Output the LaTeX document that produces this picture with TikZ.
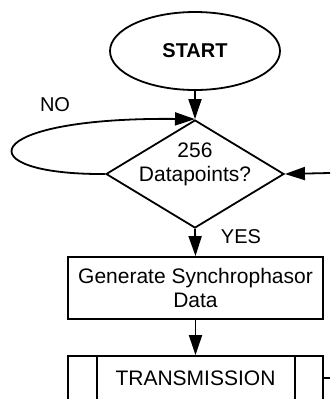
\documentclass[tikz,border=0pt]{standalone}
\usepackage{fontspec}
\setmainfont{Liberation Sans}
\usetikzlibrary{shapes.geometric,arrows.meta}
\tikzset{
  flow/.style={line width=1.8pt, -{Triangle[length=20pt,width=13pt]}},
  shapeline/.style={draw, line width=1.8pt, inner sep=0pt},
  bigtext/.style={font=\fontsize{21}{24}\selectfont, align=center},
  lbl/.style={font=\fontsize{20}{24}\selectfont},
}
\begin{document}
\begin{tikzpicture}[x=1pt,y=-1pt]
\useasboundingbox (0,0) rectangle (330,399);
\clip (0,0) rectangle (330,399);
% start terminal
\node[shapeline, ellipse, minimum width=170pt, minimum height=78pt,
      font=\bfseries\fontsize{20}{24}\selectfont] (start) at (195,51) {START};
% decision
\node[shapeline, diamond, minimum width=178pt, minimum height=108pt] (dec) at (195,174) {};
\node[bigtext] (dectext) at (195,164) {256\\Datapoints?};
% process
\node[shapeline, rectangle, minimum width=255pt, minimum height=62pt, bigtext] (gen) at (195.5,288) {Generate Synchrophasor\\Data};
% predefined process
\node[shapeline, rectangle, minimum width=255pt, minimum height=44pt, bigtext] (tx) at (195.5,378) {TRANSMISSION};
\draw[line width=1.8pt] ([xshift=30pt]tx.north west) -- ([xshift=30pt]tx.south west);
\draw[line width=1.8pt] ([xshift=-29pt]tx.north east) -- ([xshift=-29pt]tx.south east);
% free ends at the right edge
\coordinate (inR) at (330,173);
\coordinate (outR) at (330,378);
% connectors
\draw[flow] (start.south) -- (dec.north);
\draw[flow] (dec.west) .. controls (-34,175) and (-24,117) .. (dec.north);
\draw[flow] (inR) -- (dec.east);
\draw[flow] (dec.south) -- (gen.north);
\draw[flow] (gen.south) -- (tx.north);
\draw[line width=1.8pt] (tx.east) -- (outR);
% labels
\node[lbl] (no) at (55,105) {NO};
\node[lbl] (yes) at (241,237) {YES};
\end{tikzpicture}
\end{document}
